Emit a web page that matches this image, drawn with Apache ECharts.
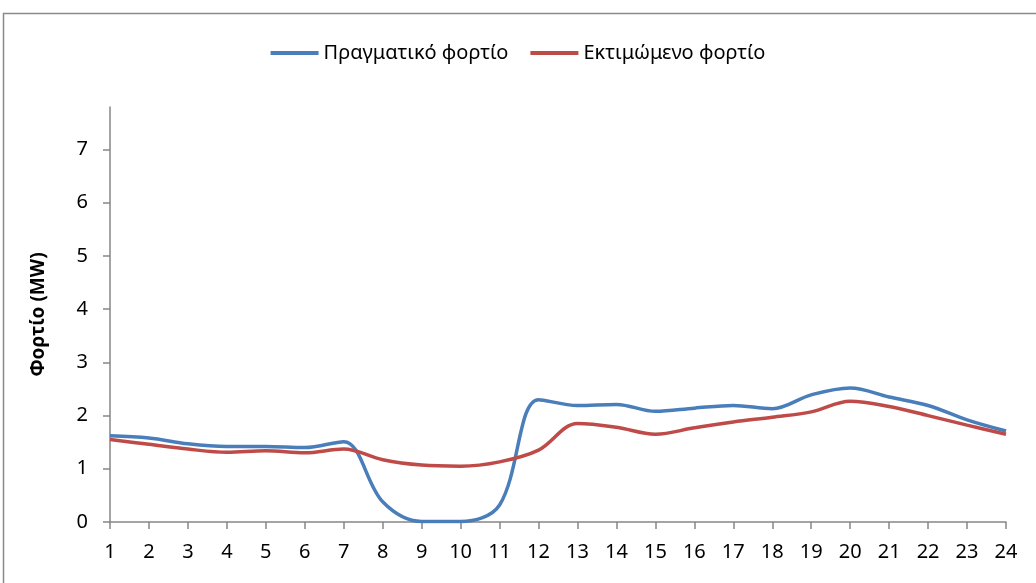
<!DOCTYPE html>
<html>
<head>
<meta charset="utf-8">
<script src="https://cdn.jsdelivr.net/npm/echarts@6/dist/echarts.min.js"></script>
<style>
  html, body { margin: 0; padding: 0; background: #fff; }
  #main { width: 1036px; height: 583px; }
</style>
</head>
<body>
<div id="main"></div>
<script>
// ώρες της ημέρας
var hours = ['1','2','3','4','5','6','7','8','9','10','11','12','13','14','15','16','17','18','19','20','21','22','23','24'];
var actualLoad = [1.62, 1.58, 1.47, 1.42, 1.42, 1.40, 1.51, 0.38, 0.01, 0.01, 0.32, 2.30, 2.19, 2.21, 2.08, 2.14, 2.19, 2.13, 2.39, 2.52, 2.35, 2.19, 1.92, 1.71];
var forecastLoad = [1.55, 1.46, 1.37, 1.31, 1.34, 1.30, 1.37, 1.17, 1.07, 1.05, 1.13, 1.35, 1.85, 1.78, 1.65, 1.77, 1.88, 1.97, 2.07, 2.27, 2.17, 2.00, 1.82, 1.65];
var yTicks = [0, 1, 2, 3, 4, 5, 6, 7];

var myChart = echarts.init(document.getElementById('main'));
var font = 'Noto Sans';
var option = {
  animation: false,
  textStyle: { fontFamily: font },
  graphic: [{
    type: 'rect',
    shape: { x: 3.5, y: 13.5, width: 1100, height: 700 },
    style: { fill: 'none', stroke: '#8a8a8a', lineWidth: 1.5 },
    silent: true
  }],
  legend: {
    top: 38,
    left: 'center',
    itemWidth: 48,
    itemHeight: 4,
    itemGap: 22,
    textStyle: { fontFamily: font, fontSize: 20, color: '#000' },
    data: [
      { name: 'Πραγματικό φορτίο', icon: 'rect' },
      { name: 'Εκτιμώμενο φορτίο', icon: 'rect' }
    ]
  },
  grid: { left: 110, right: 30, top: 107, bottom: 61 },
  xAxis: {
    type: 'category',
    data: hours,
    boundaryGap: false,
    axisLine: { lineStyle: { color: '#868686', width: 1.5 } },
    axisTick: { length: 7, alignWithLabel: true, lineStyle: { color: '#868686', width: 1.5 } },
    axisLabel: { color: '#000', fontSize: 20, margin: 20, fontFamily: font },
    splitLine: { show: false }
  },
  yAxis: {
    type: 'value',
    min: 0,
    max: 7.8,
    interval: 1,
    name: 'Φορτίο (MW)',
    nameLocation: 'middle',
    nameGap: 62,
    nameTextStyle: { fontFamily: font, fontWeight: 'bold', fontSize: 19, color: '#000' },
    axisLine: { show: true, lineStyle: { color: '#868686', width: 1.5 } },
    axisTick: { show: true, length: 7, customValues: yTicks, lineStyle: { color: '#868686', width: 1.5 } },
    axisLabel: { color: '#000', fontSize: 20, margin: 22, fontFamily: font, customValues: yTicks },
    splitLine: { show: false }
  },
  series: [
    {
      name: 'Πραγματικό φορτίο',
      type: 'line',
      data: actualLoad,
      smooth: 0.35,
      symbol: 'none',
      lineStyle: { color: '#4a7ebb', width: 3.5 },
      itemStyle: { color: '#4a7ebb' }
    },
    {
      name: 'Εκτιμώμενο φορτίο',
      type: 'line',
      data: forecastLoad,
      smooth: 0.35,
      symbol: 'none',
      lineStyle: { color: '#be4b48', width: 3.5 },
      itemStyle: { color: '#be4b48' }
    }
  ]
};
myChart.setOption(option);
</script>
</body>
</html>
